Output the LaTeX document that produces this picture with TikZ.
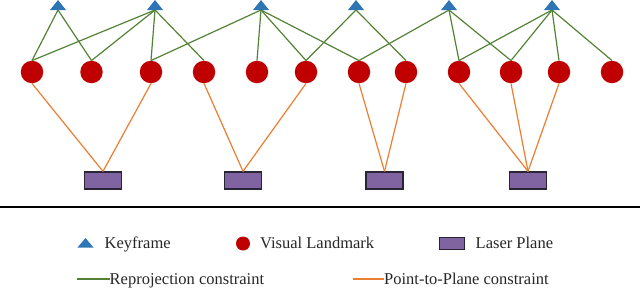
\documentclass[tikz,border=0pt]{standalone}
\usepackage{fontspec}
\setmainfont{Liberation Serif}
\newfontfamily\lblfont{Liberation Serif}
\usetikzlibrary{calc}
\definecolor{kfblue}{HTML}{2E75B6}
\definecolor{lmred}{HTML}{C00000}
\definecolor{rgreen}{HTML}{548235}
\definecolor{porange}{HTML}{ED7D31}
\definecolor{lpurple}{HTML}{8064A2}
\definecolor{lborder}{HTML}{2A2535}
\begin{document}
\begin{tikzpicture}[x=1pt,y=-1pt,
  landmark/.style={circle,fill=lmred,minimum size=22.5pt,inner sep=0pt},
  plane/.style={rectangle,fill=lpurple,draw=lborder,line width=1.3pt,minimum width=37pt,minimum height=17pt,inner sep=0pt},
  reproj/.style={draw=rgreen,line width=1.2pt},
  p2p/.style={draw=porange,line width=1.2pt},
  kftri/.style={fill=kfblue},
  lbl/.style={anchor=base west,inner sep=0pt,font=\lblfont\fontsize{16.5}{18}\selectfont,text=black!85}
]
\useasboundingbox (0,0) rectangle (640,287);
% keyframes (base centre coordinates)
\foreach \i/\x in {1/58,2/155,3/261,4/356,5/449,6/552}
  \coordinate (k\i) at (\x,10);
% landmarks
\foreach \i/\x in {1/32,2/91.5,3/151,4/204,5/257,6/306,7/359,8/406,9/459,10/511,11/559,12/612}
  \node[landmark] (c\i) at (\x,72) {};
% planes
\foreach \i/\x in {1/103,2/243,3/384.5,4/528}
  \node[plane] (p\i) at (\x,180.5) {};
% reprojection constraints
\foreach \k/\c in {1/1,1/2,2/1,2/2,2/3,2/4,3/3,3/5,3/6,3/7,4/6,4/8,5/7,5/9,5/10,6/9,6/10,6/11,6/12}
  \draw[reproj] (k\k) -- (c\c.north);
% point-to-plane constraints
\foreach \c/\p in {1/1,3/1,4/2,6/2,7/3,8/3,9/4,10/4,11/4}
  \draw[p2p] (c\c.south) -- (p\p.north);
% keyframe triangles
\foreach \i in {1,...,6}
  \fill[kftri] ($(k\i)+(-8,0)$) -- ($(k\i)+(8,0)$) -- ($(k\i)+(0,-10)$) -- cycle;
% divider
\coordinate (dl) at (0,207);
\coordinate (dr) at (640,207);
\draw[line width=2.5pt] (dl) -- (dr);
% legend
\coordinate (lk) at (85.5,247.5);
\fill[kftri] ($(lk)+(-8,0)$) -- ($(lk)+(8,0)$) -- ($(lk)+(0,-9.5)$) -- cycle;
\node[lbl] (tk) at (104.5,248) {Keyframe};
\node[circle,fill=lmred,minimum width=14pt,inner sep=0pt] (lc) at (243,243.5) {};
\node[lbl] (tc) at (260,248) {Visual Landmark};
\node[plane,minimum width=25pt,minimum height=12pt] (lp) at (452,243.5) {};
\node[lbl] (tp) at (475.5,248) {Laser Plane};
\coordinate (lg1) at (77,279);
\coordinate (lg2) at (109.5,279);
\draw[reproj] (lg1) -- (lg2);
\node[lbl] (tg) at (109.5,284) {Reprojection constraint};
\coordinate (lo1) at (352.5,279);
\coordinate (lo2) at (384,279);
\draw[p2p] (lo1) -- (lo2);
\node[lbl] (to) at (384,284) {Point-to-Plane constraint};
\end{tikzpicture}
\end{document}
